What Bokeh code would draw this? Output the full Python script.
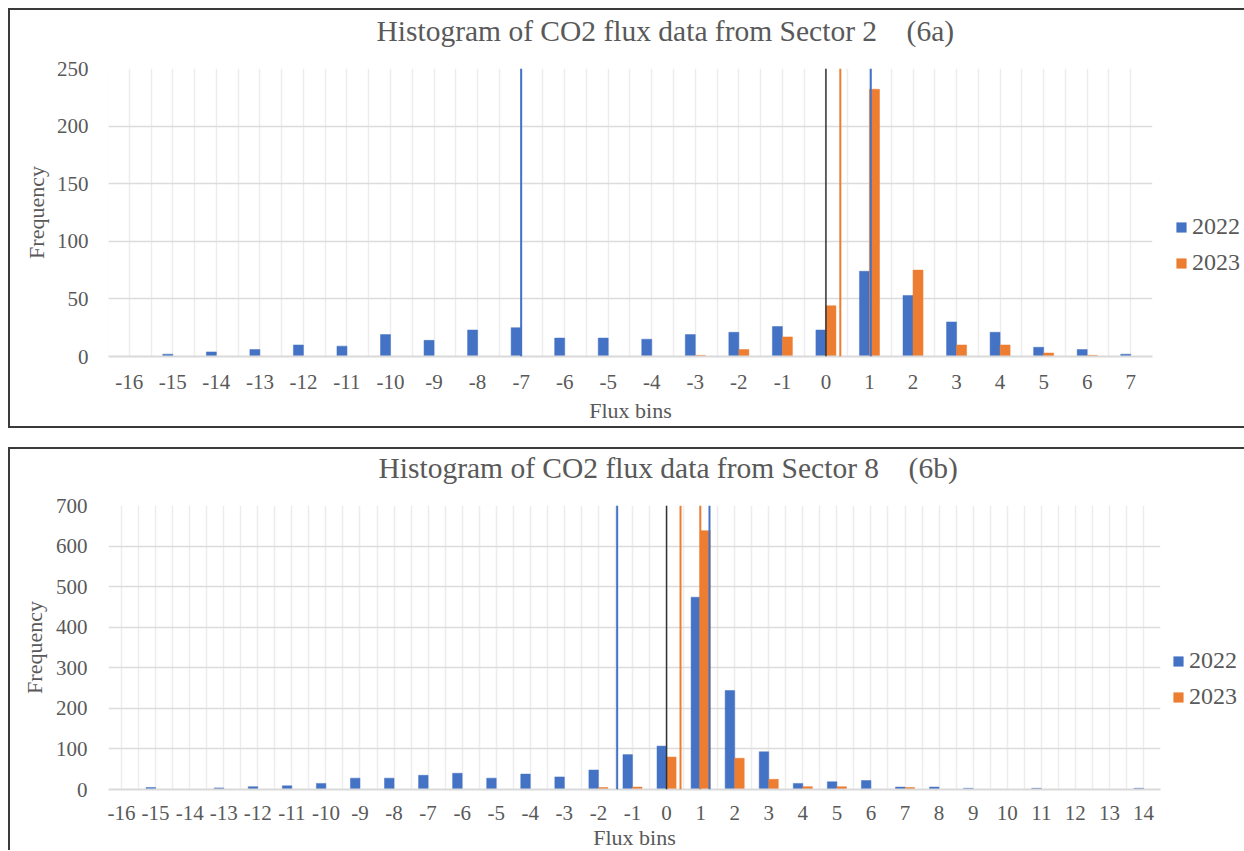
import math
from bokeh.plotting import figure
from bokeh.models import ColumnDataSource, FixedTicker, Span, Legend, LegendItem, Spacer
from bokeh.layouts import column, row
from bokeh.transform import dodge
from bokeh.embed import file_html
from bokeh.resources import INLINE

# ---------------- data: panel 6a (Sector 2) ----------------
bins_a = list(range(-16, 8))
tick_labels_a = [str(b) for b in bins_a]
freq_2022_a = [0, 2, 4, 6, 10, 9, 19, 14, 23, 25, 16, 16, 15, 19, 21, 26, 23, 74, 53, 30, 21, 8, 6, 2]
freq_2023_a = [0, 0, 0, 0, 0, 0, 0, 0, 0, 0, 0, 0, 0, 1, 6, 17, 44, 232, 75, 10, 10, 3, 1, 0]
lines_2022_a = [-7.0, 1.03]
lines_2023_a = [0.33]
zero_line_a = [0.0]
y_ticks_a = [0, 50, 100, 150, 200, 250]
title_a = "Histogram of CO2 flux data from Sector 2"
tag_a = "(6a)"

# ---------------- data: panel 6b (Sector 8) ----------------
bins_b = list(range(-16, 15))
tick_labels_b = [str(b) for b in bins_b]
freq_2022_b = [0, 5, 0, 4, 7, 9, 15, 28, 28, 35, 40, 28, 38, 31, 48, 86, 107, 474, 244, 93,
               15, 19, 22, 6, 6, 3, 0, 3, 0, 0, 3]
freq_2023_b = [0, 0, 0, 0, 0, 0, 0, 0, 0, 0, 0, 0, 0, 0, 5, 6, 80, 638, 77, 25,
               7, 7, 0, 5, 0, 0, 0, 0, 0, 0, 0]
lines_2022_b = [-1.45, 1.26]
lines_2023_b = [0.41, 0.99]
zero_line_b = [0.0]
y_ticks_b = [0, 100, 200, 300, 400, 500, 600, 700]
title_b = "Histogram of CO2 flux data from Sector 8"
tag_b = "(6b)"

series_names = ["2022", "2023"]
x_title = "Flux bins"
y_title = "Frequency"

BLUE = "#4472C4"
ORANGE = "#ED7D31"
TXT = "#595959"
SERIF = "Liberation Serif"
BORDER = "2px solid #3a3a3a"


def make_panel(bins, labels, f22, f23, l22, l23, l0, yticks, title, tag, g):
    W, H = g["W"], g["H"]
    fl, fw, ft, fh = g["fl"], g["fw"], g["ft"], g["fh"]
    ox, oy = g["ox"], g["oy"]  # canvas origin on page
    act = max(fl, g["act"])     # left border Bokeh actually uses
    shift = act - fl
    unit = fw / len(bins)       # pixels per bin in the reference frame
    x0 = bins[0] - 0.5 + shift / unit
    x1 = bins[-1] + 0.5
    fw_act = fw - shift
    y0, y1 = 0, yticks[-1]

    p = figure(frame_width=fw_act, frame_height=fh, x_range=(x0, x1), y_range=(y0, y1),
               output_backend="svg", toolbar_location=None, align="start",
               min_border_left=act, min_border_right=W - fl - fw,
               min_border_top=ft, min_border_bottom=H - ft - fh)
    p.outline_line_color = None
    p.background_fill_color = "white"
    p.border_fill_color = "white"

    # title (one line, tag separated by wide space)
    p.title.text = title + "\u2002\u2002" + tag
    p.title.text_font = SERIF
    p.title.text_font_size = "29.5px"
    p.title.text_font_style = "normal"
    p.title.text_color = TXT
    p.title.align = "left"
    p.title.offset = g["title_x"] - (ox + act)
    p.title.standoff = g["title_stand"]
    try:
        p.title.padding = dict(left=0, right=0, top=0, bottom=g["title_pad"])
    except Exception:
        p.title.standoff = g["title_stand"] + g["title_pad"]

    src = ColumnDataSource(dict(x=bins, a=f22, b=f23))
    bw = g["bw"]
    r22 = p.vbar(x=dodge("x", -bw / 2, range=p.x_range), top="a", width=bw, source=src,
                 fill_color=BLUE, line_color=BLUE, line_width=0.5)
    r23 = p.vbar(x=dodge("x", bw / 2, range=p.x_range), top="b", width=bw, source=src,
                 fill_color=ORANGE, line_color=ORANGE, line_width=0.5)

    for v in l0:
        p.add_layout(Span(location=v, dimension="height", line_color="#333333", line_width=1.5))
    for v in l23:
        p.add_layout(Span(location=v, dimension="height", line_color=ORANGE, line_width=2))
    for v in l22:
        p.add_layout(Span(location=v, dimension="height", line_color=BLUE, line_width=2))

    # axes
    p.xaxis.ticker = FixedTicker(ticks=bins)
    p.xaxis.major_label_overrides = {b: s for b, s in zip(bins, labels)}
    p.xaxis.axis_line_color = "#d9d9d9"
    p.xaxis.axis_line_width = 2
    p.xaxis.major_tick_line_color = None
    p.xaxis.minor_tick_line_color = None
    p.xaxis.major_label_standoff = g["xstand"]
    p.xaxis.axis_label = x_title
    p.xaxis.axis_label_standoff = g["xl_stand"]
    p.yaxis.ticker = FixedTicker(ticks=yticks)
    p.yaxis.axis_line_color = None
    p.yaxis.major_tick_line_color = None
    p.yaxis.minor_tick_line_color = None
    p.yaxis.major_label_standoff = g["ystand"]
    p.yaxis.axis_label = y_title
    p.yaxis.axis_label_standoff = g["yl_stand"]
    for ax in (p.xaxis, p.yaxis):
        ax.major_label_text_font = SERIF
        ax.major_label_text_font_size = "21px"
        ax.major_label_text_color = TXT
        ax.axis_label_text_font = SERIF
        ax.axis_label_text_font_size = "22px"
        ax.axis_label_text_font_style = "normal"
        ax.axis_label_text_color = TXT

    # grids (lines at every half bin)
    g0 = bins[0] - 0.5
    half = [g0 + 0.5 * k for k in range(2 * len(bins) + 1)]
    p.xgrid.ticker = FixedTicker(ticks=half)
    p.xgrid.grid_line_color = "#ececec"
    p.xgrid.grid_line_width = 1.5
    p.ygrid.ticker = FixedTicker(ticks=yticks)
    p.ygrid.grid_line_color = "#dcdcdc"
    p.ygrid.grid_line_width = 1.5

    lg_off = g["lg_x"] - (ox + fl + fw)
    legend = Legend(items=[LegendItem(label=series_names[0], renderers=[r22]),
                           LegendItem(label=series_names[1], renderers=[r23])],
                    location=(lg_off, (oy + ft + fh) - g["lg_y"]),
                    orientation="vertical", padding=0, margin=0, spacing=9,
                    glyph_width=12, glyph_height=12, label_standoff=5,
                    label_width=(W - fl - fw) - lg_off - 17,
                    border_line_color=None, background_fill_alpha=0,
                    label_text_font=SERIF, label_text_font_size="24px",
                    label_text_color=TXT)
    p.add_layout(legend, "right")
    return p


geo_a = dict(W=1234, H=416, ox=10, oy=10, fl=97, act=98, fw=1043, ft=58, fh=284, bw=0.23,
             xstand=12, xl_stand=6, ystand=14, yl_stand=5, title_x=376,
             title_stand=2, title_pad=21, lg_x=1173, lg_y=272)
geo_b = dict(W=1234, H=400, ox=10, oy=449, fl=94, act=98, fw=1054, ft=56, fh=282, bw=0.28,
             xstand=10, xl_stand=2, ystand=15, yl_stand=6, title_x=378,
             title_stand=0, title_pad=22, lg_x=1170, lg_y=708)

p1 = make_panel(bins_a, tick_labels_a, freq_2022_a, freq_2023_a, lines_2022_a, lines_2023_a,
                zero_line_a, y_ticks_a, title_a, tag_a, geo_a)
p2 = make_panel(bins_b, tick_labels_b, freq_2022_b, freq_2023_b, lines_2022_b, lines_2023_b,
                zero_line_b, y_ticks_b, title_b, tag_b, geo_b)
p1.styles = {"border-left": BORDER, "border-top": BORDER, "border-bottom": BORDER}
p2.styles = {"border-left": BORDER, "border-top": BORDER}

inner = column(Spacer(width=10, height=8), p1, Spacer(width=10, height=19), p2,
               spacing=0, align="start")
layout = row(Spacer(width=8, height=10), inner, spacing=0, align="start")
open("out.html", "w").write(file_html(layout, INLINE))
